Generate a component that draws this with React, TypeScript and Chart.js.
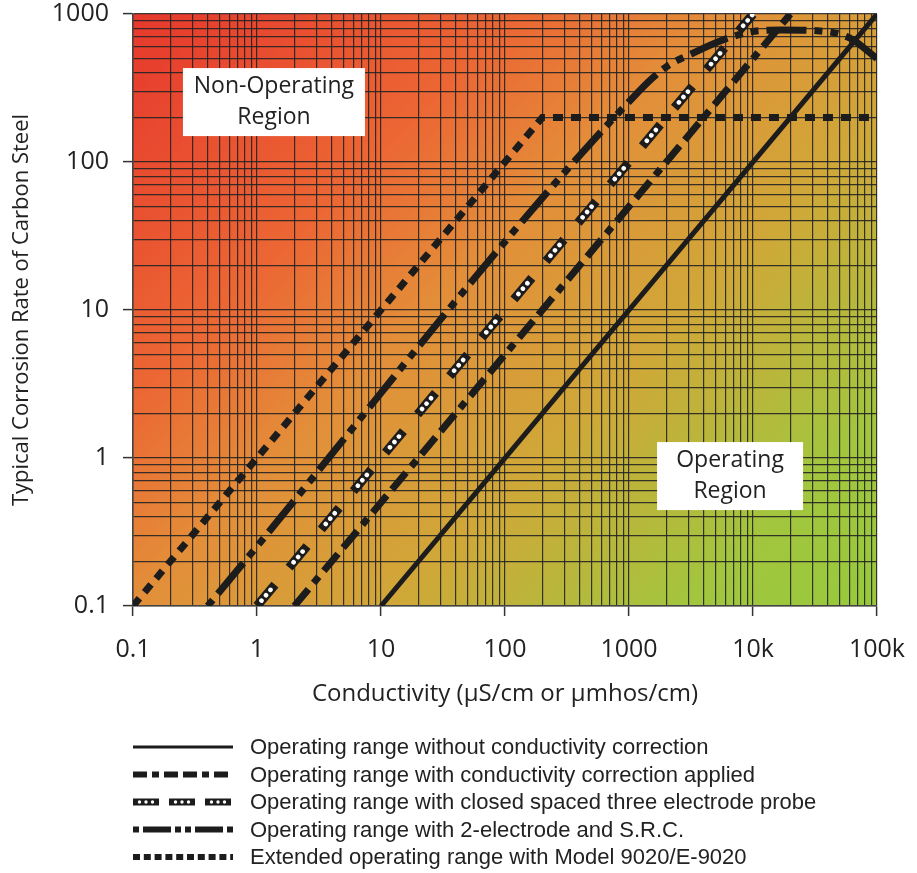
import React, { useEffect, useRef } from 'react';
import { Chart, registerables } from 'chart.js';

Chart.register(...registerables);

// ---- axis ticks ----
const xMajorTicks = [0.1, 1, 10, 100, 1000, 10000, 100000];
const xTickLabels = ['0.1', '1', '10', '100', '1000', '10k', '100k'];
const yMajorTicks = [0.1, 1, 10, 100, 1000];
const yTickLabels = ['0.1', '1', '10', '100', '1000'];
const minorSteps = [2, 3, 4, 5, 6, 7, 8, 9];

const xAxisTitle = 'Conductivity (µS/cm or µmhos/cm)';
const yAxisTitle = 'Typical Corrosion Rate of Carbon Steel';

// ---- series ----
const seriesLabels = [
  'Operating range without conductivity correction',
  'Operating range with conductivity correction applied',
  'Operating range with closed spaced three electrode probe',
  'Operating range with 2-electrode and S.R.C.',
  'Extended operating range with Model 9020/E-9020',
];

const noCorrectionX = [10, 100000];
const noCorrectionY = [0.1, 1000];

const correctionX = [2, 20000];
const correctionY = [0.1, 1000];

const threeElectrodeX = [1, 10000];
const threeElectrodeY = [0.1, 1000];

const twoElectrodeX = [0.4, 1200, 2000, 3300, 5700, 9500, 17000, 33000, 60000, 100000];
const twoElectrodeY = [0.1, 300, 440, 545, 667, 756, 780, 770, 690, 500];

const extendedX = [0.1, 200, 100000];
const extendedY = [0.1, 200, 200];

// ---- region annotations (anchored in data coordinates) ----
const regionLabels = [
  { lines: ['Non-Operating', 'Region'], x: 1.37, y: 254, w: 182, h: 68 },
  { lines: ['Operating', 'Region'], x: 6530, y: 0.755, w: 146, h: 68 },
];

const INK = '#1c1c1c';

const pts = (xs: number[], ys: number[]) => xs.map((x, i) => ({ x, y: ys[i] }));

const gridValues = (majors: number[]) => {
  const out: { value: number; major: boolean }[] = [];
  majors.forEach((m, i) => {
    out.push({ value: m, major: true });
    if (i < majors.length - 1) {
      minorSteps.forEach((k) => out.push({ value: parseFloat((m * k).toPrecision(8)), major: false }));
    }
  });
  return out;
};

const labelFor = (v: number, majors: number[], labels: string[]) => {
  const i = majors.findIndex((m) => Math.abs(v - m) / m < 1e-9);
  return i >= 0 ? labels[i] : '';
};

const bgPlugin = {
  id: 'bgGradient',
  beforeDraw(chart: any) {
    const { ctx, chartArea: a } = chart;
    const w = a.right - a.left;
    const h = a.bottom - a.top;
    const d = (w + h) / 2;
    const g = ctx.createLinearGradient(a.left, a.top, a.left + d, a.top + d);
    g.addColorStop(0, '#e6382d');
    g.addColorStop(0.29, '#ec6734');
    g.addColorStop(0.44, '#e38e39');
    g.addColorStop(0.64, '#cfa838');
    g.addColorStop(0.86, '#a2c63e');
    g.addColorStop(1, '#97c93b');
    ctx.save();
    ctx.fillStyle = g;
    ctx.fillRect(a.left, a.top, w, h);
    ctx.restore();
  },
};

const regionPlugin = {
  id: 'regions',
  beforeDatasetsDraw(chart: any) {
    const { ctx, scales } = chart;
    ctx.save();
    regionLabels.forEach((r) => {
      const cx = scales.x.getPixelForValue(r.x);
      const cy = scales.y.getPixelForValue(r.y);
      ctx.fillStyle = '#ffffff';
      ctx.fillRect(cx - r.w / 2, cy - r.h / 2, r.w, r.h);
      ctx.fillStyle = '#222';
      ctx.font = '23px "Open Sans"';
      ctx.textAlign = 'center';
      ctx.textBaseline = 'middle';
      const lh = 31;
      r.lines.forEach((t, i) => {
        ctx.fillText(t, cx, cy + (i - (r.lines.length - 1) / 2) * lh);
      });
    });
    ctx.restore();
  },
};

const drawSample = (ctx: CanvasRenderingContext2D, i: number, x0: number, x1: number, y: number) => {
  ctx.save();
  ctx.strokeStyle = INK;
  ctx.lineCap = 'butt';
  const line = (w: number, dash: number[], offset = 0) => {
    ctx.lineWidth = w;
    ctx.setLineDash(dash);
    ctx.lineDashOffset = offset;
    ctx.beginPath();
    ctx.moveTo(x0, y);
    ctx.lineTo(x1, y);
    ctx.stroke();
  };
  if (i === 0) line(3, []);
  if (i === 1) line(6, [14, 5, 7, 5, 14, 5]);
  if (i === 2) {
    line(7, [26, 10]);
    ctx.strokeStyle = '#ffffff';
    ctx.lineCap = 'round';
    line(3.4, [0.001, 6.5, 0.001, 6.5, 0.001, 22.997], -6.5);
  }
  if (i === 3) line(6, [6, 4, 28, 4, 6, 4]);
  if (i === 4) line(6, [7, 3.8]);
  ctx.restore();
};

const legendPlugin = {
  id: 'customLegend',
  afterDraw(chart: any) {
    const { ctx, chartArea: a } = chart;
    const x0 = a.left;
    const x1 = a.left + 100;
    const textX = a.left + 117;
    const firstRow = a.bottom + 141;
    const rowGap = 27.5;
    ctx.save();
    seriesLabels.forEach((label, i) => {
      const y = firstRow + i * rowGap;
      drawSample(ctx, i, x0, x1, y);
      ctx.fillStyle = '#222';
      ctx.font = '22px "Liberation Sans"';
      ctx.textAlign = 'left';
      ctx.textBaseline = 'middle';
      ctx.fillText(label, textX, y + 1);
    });
    ctx.restore();
  },
};

const gridOpts = {
  color: 'rgba(35,35,35,0.9)',
  lineWidth: 1.2,
  tickLength: 10,
  tickColor: (c: any) => (c.tick && c.tick.major ? '#333' : 'rgba(0,0,0,0)'),
  tickWidth: 1.5,
};

export default function App() {
  const ref = useRef<HTMLCanvasElement>(null);

  useEffect(() => {
    const canvas = ref.current;
    if (!canvas) return;
    const chart = new Chart(canvas, {
      type: 'line',
      data: {
        datasets: [
          {
            label: seriesLabels[0],
            data: pts(noCorrectionX, noCorrectionY),
            borderColor: INK,
            borderWidth: 5,
            order: 1,
          },
          {
            label: seriesLabels[1],
            data: pts(correctionX, correctionY),
            borderColor: INK,
            borderWidth: 7,
            borderDash: [22, 8, 8, 8, 22, 8],
            order: 1,
          },
          {
            label: seriesLabels[2],
            data: pts(threeElectrodeX, threeElectrodeY),
            borderColor: INK,
            borderWidth: 9,
            borderDash: [28, 22],
            order: 1,
          },
          {
            label: seriesLabels[2] + ' (dots)',
            data: pts(threeElectrodeX, threeElectrodeY),
            borderColor: '#ffffff',
            borderWidth: 4.6,
            borderCapStyle: 'round',
            borderDash: [0.001, 7, 0.001, 7, 0.001, 35.997],
            borderDashOffset: -7,
            order: 0,
          },
          {
            label: seriesLabels[3],
            data: pts(twoElectrodeX, twoElectrodeY),
            borderColor: INK,
            borderWidth: 7,
            borderDash: [8, 8, 40, 8, 8, 8],
            cubicInterpolationMode: 'monotone',
            order: 1,
          },
          {
            label: seriesLabels[4],
            data: pts(extendedX, extendedY),
            borderColor: INK,
            borderWidth: 7,
            borderDash: [10, 8],
            order: 1,
          },
        ] as any,
      },
      options: {
        responsive: false,
        animation: false,
        events: [],
        layout: { padding: { left: 0, top: 14, right: 40, bottom: 157 } },
        elements: { point: { radius: 0 }, line: { fill: false } },
        plugins: {
          legend: { display: false },
          tooltip: { enabled: false },
        },
        scales: {
          x: {
            type: 'logarithmic',
            position: 'bottom',
            min: 0.1,
            max: 100000,
            afterBuildTicks: (s: any) => {
              s.ticks = gridValues(xMajorTicks);
            },
            afterFit: (s: any) => {
              s.height = 110;
              s.paddingLeft = 0;
              s.paddingRight = 0;
            },
            ticks: {
              autoSkip: false,
              maxRotation: 0,
              minRotation: 0,
              padding: 21,
              color: '#222',
              font: { family: 'Open Sans', size: 25, lineHeight: 1 },
              callback: (v: any) => labelFor(Number(v), xMajorTicks, xTickLabels),
            },
            grid: gridOpts,
            border: { display: true, color: '#444', width: 1.5 },
            title: {
              display: true,
              text: xAxisTitle,
              color: '#222',
              font: { family: 'Open Sans', size: 24, lineHeight: 1.2 },
              padding: { top: 0, bottom: 7 },
            },
          },
          y: {
            type: 'logarithmic',
            position: 'left',
            min: 0.1,
            max: 1000,
            afterBuildTicks: (s: any) => {
              s.ticks = gridValues(yMajorTicks);
            },
            afterFit: (s: any) => {
              s.width = 133;
              s.paddingTop = 0;
              s.paddingBottom = 0;
            },
            ticks: {
              autoSkip: false,
              padding: 14,
              color: '#222',
              font: { family: 'Open Sans', size: 25, lineHeight: 1 },
              callback: (v: any) => labelFor(Number(v), yMajorTicks, yTickLabels),
            },
            grid: gridOpts,
            border: { display: true, color: '#444', width: 1.5 },
            title: {
              display: true,
              text: yAxisTitle,
              color: '#222',
              font: { family: 'Open Sans', size: 22, lineHeight: 1.2 },
              padding: { top: 9, bottom: 0 },
            },
          },
        },
      } as any,
      plugins: [bgPlugin, regionPlugin, legendPlugin],
    });
    return () => chart.destroy();
  }, []);

  return (
    <div style={{ position: 'absolute', left: 0, top: 0, width: 917, height: 873, background: '#fff' }}>
      <canvas ref={ref} width={917} height={873} style={{ display: 'block', width: 917, height: 873 }} />
    </div>
  );
}
